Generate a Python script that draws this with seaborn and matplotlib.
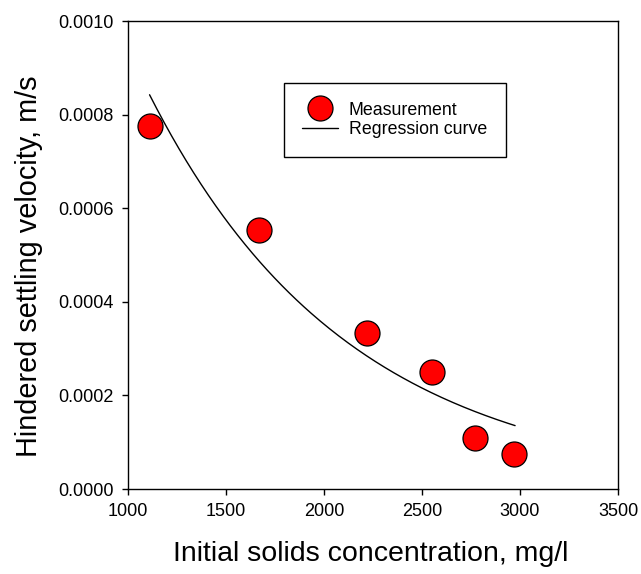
import matplotlib
matplotlib.use("Agg")
import matplotlib.pyplot as plt
import seaborn as sns
import numpy as np
import pandas as pd
from matplotlib.lines import Line2D

# Measured hindered settling velocities
concentration = [1114, 1667, 2221, 2551, 2772, 2971]          # mg/l
velocity = [0.000776, 0.000553, 0.000334, 0.000251, 0.000109, 0.0000741]  # m/s

# Exponential regression model  v = a * exp(-b * C)
fit_a = 0.0025
fit_b = 0.00098
fit_start, fit_end = 1110, 2975

x_ticks = [1000, 1500, 2000, 2500, 3000, 3500]
y_ticks = [0.0, 0.0002, 0.0004, 0.0006, 0.0008, 0.0010]
y_tick_labels = ["0.0000", "0.0002", "0.0004", "0.0006", "0.0008", "0.0010"]

sns.set_style("ticks")
plt.rcParams["font.family"] = ["Liberation Sans", "DejaVu Sans"]
plt.rcParams["text.color"] = "black"
plt.rcParams["axes.labelcolor"] = "black"

meas = pd.DataFrame({"conc": concentration, "vel": velocity})
c_fit = np.linspace(fit_start, fit_end, 200)
curve = pd.DataFrame({"conc": c_fit, "vel": fit_a * np.exp(-fit_b * c_fit)})

fig = plt.figure(figsize=(6.41, 5.74), dpi=100)
ax = fig.add_axes([128 / 641, 85 / 574, 490 / 641, 468 / 574])

sns.lineplot(data=curve, x="conc", y="vel", ax=ax, color="black", linewidth=1.0)
sns.scatterplot(data=meas, x="conc", y="vel", ax=ax, s=18 ** 2, color="#ff0000",
                edgecolor="black", linewidth=0.9, zorder=3)

ax.set_xlim(1000, 3500)
ax.set_ylim(0, 0.0010)
ax.set_xticks(x_ticks)
ax.set_xticklabels([str(t) for t in x_ticks])
ax.set_yticks(y_ticks)
ax.set_yticklabels(y_tick_labels)
ax.tick_params(axis="both", direction="out", length=4, width=1, pad=6,
               labelsize=13, colors="black")
for sp in ax.spines.values():
    sp.set_visible(True)
    sp.set_linewidth(1.0)
    sp.set_color("black")

ax.set_xlabel("Initial solids concentration, mg/l", fontsize=20.5, color="black")
ax.set_ylabel("Hindered settling velocity, m/s", fontsize=20.8, color="black")
ax.xaxis.set_label_coords(0.496, -0.112)
ax.yaxis.set_label_coords(-0.173, 0.476)

handles = [
    Line2D([], [], linestyle="none", marker="o", markersize=18,
           markerfacecolor="#ff0000", markeredgecolor="black", markeredgewidth=0.9),
    Line2D([], [], color="black", linewidth=1.0),
]
leg = ax.legend(handles, ["Measurement", "Regression curve"],
                loc="upper left", bbox_to_anchor=(0.318, 0.8675),
                borderaxespad=0, fontsize=12.8, frameon=True, fancybox=False,
                edgecolor="black", framealpha=1, handlelength=2.0,
                handletextpad=0.6, borderpad=1.05, labelspacing=0.14)
leg.get_frame().set_linewidth(1.0)
for t in leg.get_texts():
    t.set_color("black")

fig.savefig("out.png", dpi=100)
